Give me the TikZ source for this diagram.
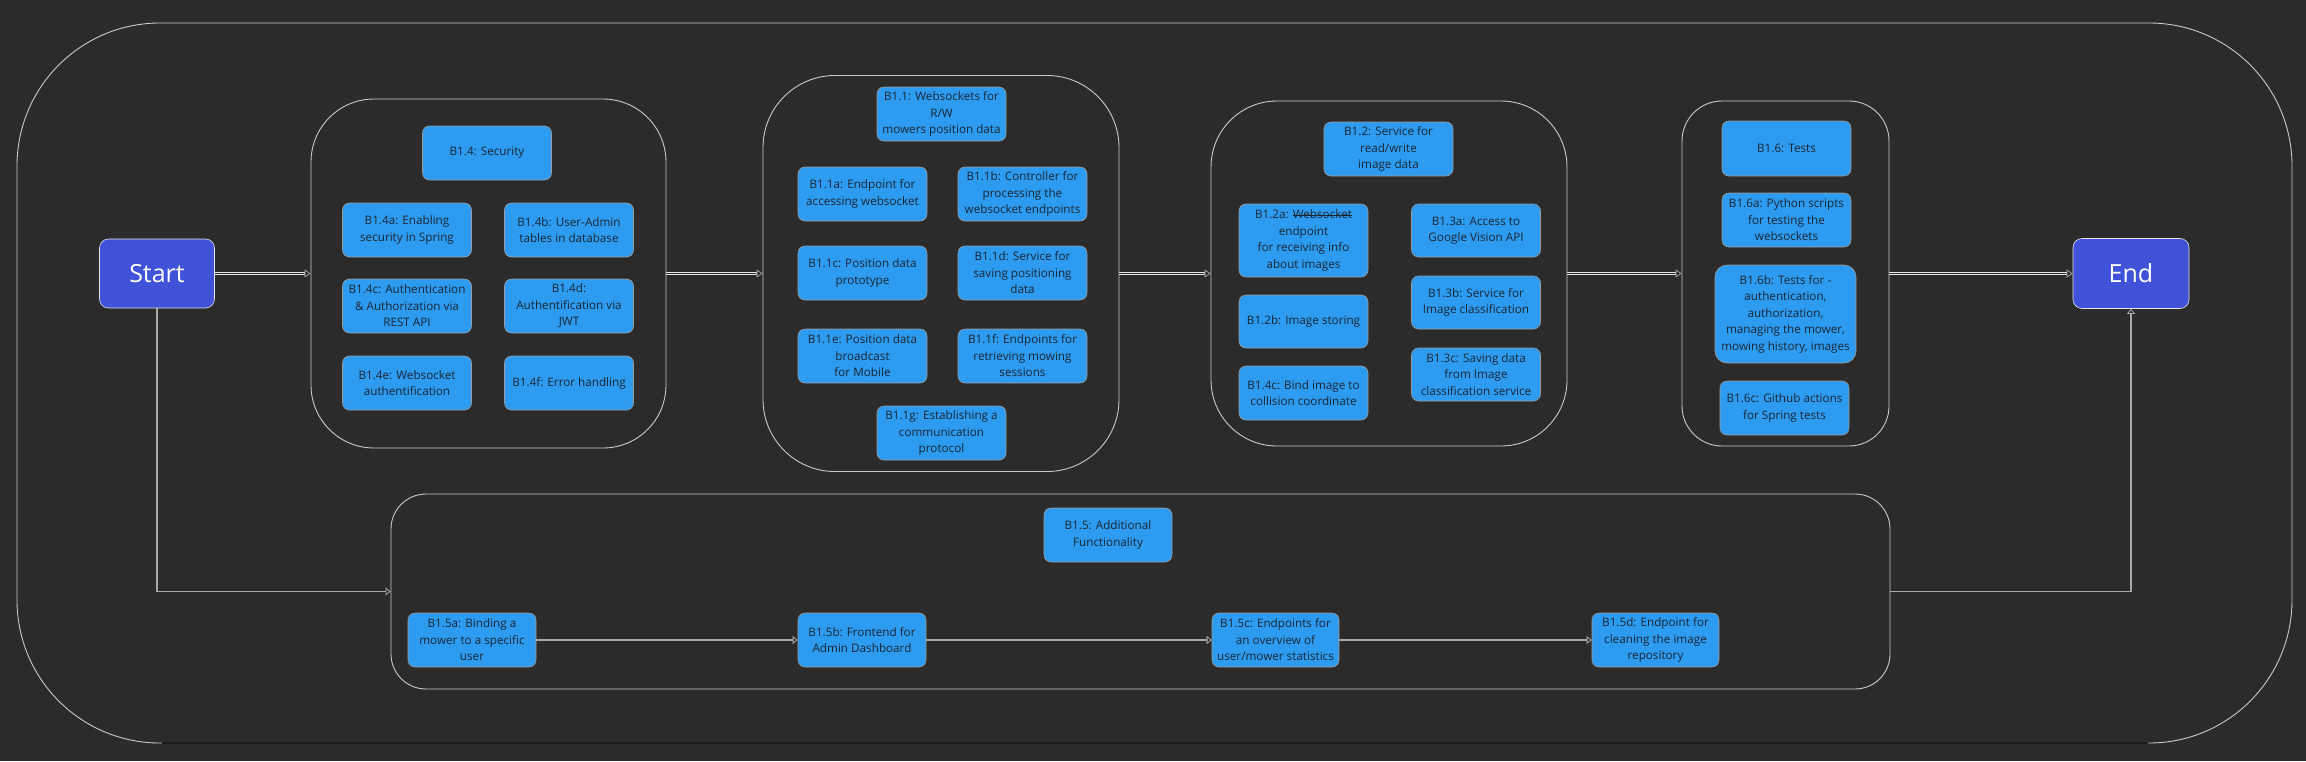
\documentclass[tikz,border=0pt]{standalone}
\usepackage{fontspec}
\setmainfont{Open Sans}
\usetikzlibrary{arrows.meta,calc}
\newsavebox{\mystrikebox}
\newcommand{\strikeword}[1]{\sbox{\mystrikebox}{#1}\rlap{\rule[0.3em]{\wd\mystrikebox}{0.7pt}}\usebox{\mystrikebox}}
\definecolor{bg}{HTML}{2B2B2B}
\definecolor{taskblue}{HTML}{2D9BEF}
\definecolor{termblue}{HTML}{3F52D8}
\definecolor{tasktext}{HTML}{1B2633}
\definecolor{edgecol}{HTML}{E6E6E6}
\definecolor{flowcol}{HTML}{A8A8A8}
\definecolor{darkedge}{HTML}{1C1C1C}
\begin{document}
\begin{tikzpicture}[x=1pt,y=-1pt,
  tbox/.style={draw=edgecol!60!bg, line width=0.6pt, rounded corners=7pt, fill=taskblue, text=tasktext,
    font=\fontsize{11.7}{16.5}\selectfont, align=center, minimum width=129pt, minimum height=54pt, inner sep=0pt},
  termbox/.style={draw=edgecol, line width=0.6pt, rounded corners=9pt, fill=termblue, text=white,
    font=\fontsize{25}{30}\selectfont, minimum width=115pt, minimum height=69pt, inner sep=0pt},
  grpbox/.style={draw=edgecol!85!bg, line width=0.9pt, inner sep=0pt},
  mainflow/.style={draw=edgecol, line width=0.7pt, double=bg, double distance=1.2pt, shorten >=6pt},
  headtip/.style={draw=flowcol, line width=0.7pt, -{Triangle[open,length=6pt,width=8pt]}},
  subflow/.style={draw=flowcol, line width=1.6pt, -{Triangle[open,length=5pt,width=8pt,line width=0.8pt]}},
  thinflow/.style={draw=flowcol, line width=1.2pt, -{Triangle[open,length=5pt,width=8pt,line width=0.8pt]}},
]
\useasboundingbox (0,0) rectangle (2306,761);
\fill[bg] (0,0) rectangle (2306,761);

% outer frame
\draw[edgecol!85!bg, line width=0.9pt, rounded corners=143pt] (17,23) rectangle (2292,743);
\draw[darkedge, line width=1.4pt] (162,743) -- (2148,743);

% containers
\node[grpbox, rounded corners=63pt, minimum width=355pt, minimum height=349pt] (sec) at (488.5,273.5) {};
\node[grpbox, rounded corners=72pt, minimum width=356pt, minimum height=396pt] (ws) at (941,273.5) {};
\node[grpbox, rounded corners=66pt, minimum width=356pt, minimum height=345pt] (img) at (1389,273.5) {};
\node[grpbox, rounded corners=40pt, minimum width=207pt, minimum height=345pt] (tst) at (1785.5,273.5) {};
\node[grpbox, rounded corners=35pt, minimum width=1499pt, minimum height=195pt] (add) at (1140.5,591.5) {};

% terminals
\node[termbox] (start) at (157,273.5) {Start};
\node[termbox, minimum width=116pt, minimum height=70pt] (end) at (2131,273.5) {End};

% security
\node[tbox] (b14) at (487,153) {B1.4: Security};
\node[tbox] (b14a) at (407,230) {B1.4a: Enabling\\security in Spring};
\node[tbox] (b14b) at (569,230) {B1.4b: User-Admin\\tables in database};
\node[tbox] (b14c) at (407,306) {B1.4c: Authentication\\\& Authorization via\\REST API};
\node[tbox] (b14d) at (569,306) {B1.4d:\\Authentification via\\JWT};
\node[tbox] (b14e) at (407,383) {B1.4e: Websocket\\authentification};
\node[tbox] (b14f) at (569,383) {B1.4f: Error handling};

% websockets
\node[tbox] (b11) at (941.5,114) {B1.1: Websockets for\\R/W\\mowers position data};
\node[tbox] (b11a) at (862.5,194) {B1.1a: Endpoint for\\accessing websocket};
\node[tbox] (b11b) at (1022.5,194) {B1.1b: Controller for\\processing the\\websocket endpoints};
\node[tbox] (b11c) at (862.5,273) {B1.1c: Position data\\prototype};
\node[tbox] (b11d) at (1022.5,273) {B1.1d: Service for\\saving positioning\\data};
\node[tbox] (b11e) at (862.5,356) {B1.1e: Position data\\broadcast\\for Mobile};
\node[tbox] (b11f) at (1022.5,356) {B1.1f: Endpoints for\\retrieving mowing\\sessions};
\node[tbox] (b11g) at (941.5,433) {B1.1g: Establishing a\\communication\\protocol};

% images
\node[tbox] (b12) at (1388.5,149) {B1.2: Service for\\read/write\\image data};
\node[tbox, minimum height=73pt] (b12a) at (1303.5,240.5) {B1.2a: \strikeword{Websocket}\\endpoint\\for receiving info\\about images};
\node[tbox, minimum height=53pt] (b12b) at (1303.5,321.5) {B1.2b: Image storing};
\node[tbox] (b14cb) at (1303.5,393) {B1.4c: Bind image to\\collision coordinate};
\node[tbox, minimum height=53pt] (b13a) at (1476,230.5) {B1.3a: Access to\\Google Vision API};
\node[tbox, minimum height=53pt] (b13b) at (1476,302.5) {B1.3b: Service for\\Image classification};
\node[tbox, minimum height=53pt] (b13c) at (1476,374.5) {B1.3c: Saving data\\from Image\\classification service};

% tests
\node[tbox, minimum height=55pt] (b16) at (1786.5,148.5) {B1.6: Tests};
\node[tbox] (b16a) at (1786.5,220) {B1.6a: Python scripts\\for testing the\\websockets};
\node[tbox, minimum width=141pt, minimum height=98pt, rounded corners=12pt] (b16b) at (1785.5,314) {B1.6b: Tests for -\\authentication,\\authorization,\\managing the mower,\\mowing history, images};
\node[tbox] (b16c) at (1784.5,408) {B1.6c: Github actions\\for Spring tests};

% additional
\node[tbox, minimum width=128pt] (b15) at (1108,535) {B1.5: Additional\\Functionality};
\node[tbox, minimum width=128pt] (b15a) at (472,640) {B1.5a: Binding a\\mower to a specific\\user};
\node[tbox, minimum width=128pt] (b15b) at (862,640) {B1.5b: Frontend for\\Admin Dashboard};
\node[tbox, minimum width=127pt] (b15c) at (1275.5,640) {B1.5c: Endpoints for\\an overview of\\user/mower statistics};
\node[tbox, minimum width=127pt] (b15d) at (1655.5,640) {B1.5d: Endpoint for\\cleaning the image\\repository};

% main flow
\draw[mainflow] (start.east) -- (sec.west);
\draw[headtip] ($(sec.west)+(-6.5,0)$) -- (sec.west);
\draw[mainflow] (sec.east) -- (ws.west);
\draw[headtip] ($(ws.west)+(-6.5,0)$) -- (ws.west);
\draw[mainflow] (ws.east) -- (img.west);
\draw[headtip] ($(img.west)+(-6.5,0)$) -- (img.west);
\draw[mainflow] (img.east) -- (tst.west);
\draw[headtip] ($(tst.west)+(-6.5,0)$) -- (tst.west);
\draw[mainflow] (tst.east) -- (end.west);
\draw[headtip] ($(end.west)+(-6.5,0)$) -- (end.west);

% lower flow
\draw[thinflow] (start.south) |- (add.west);
\draw[thinflow] (add.east) -| (end.south);
\draw[subflow] (b15a.east) -- (b15b.west);
\draw[subflow] (b15b.east) -- (b15c.west);
\draw[subflow] (b15c.east) -- (b15d.west);
\end{tikzpicture}
\end{document}
